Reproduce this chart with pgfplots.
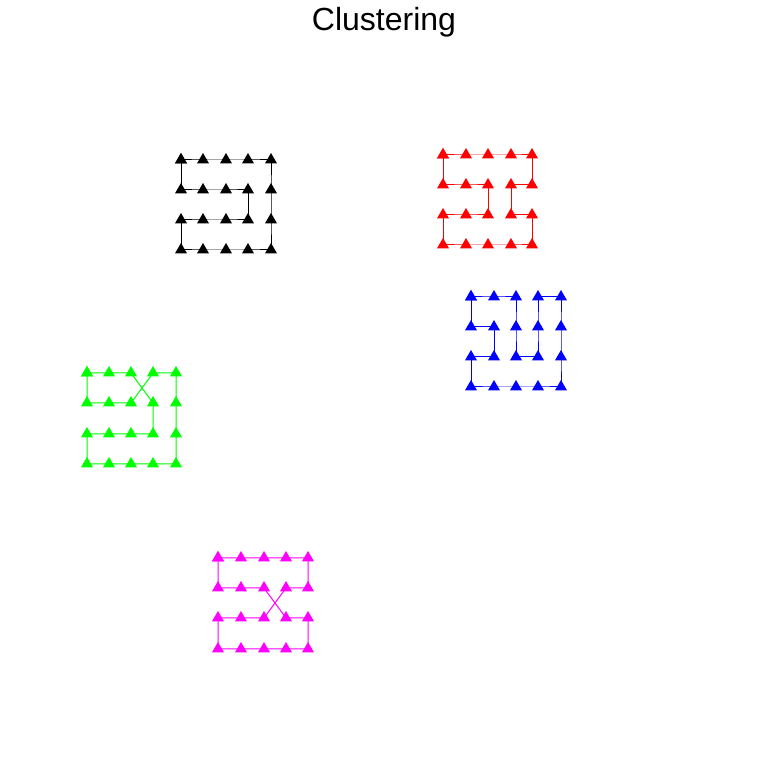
\documentclass[border=0pt]{standalone}
\usepackage{fontspec}
\setmainfont{Liberation Sans}
\usepackage{pgfplots}
\pgfplotsset{compat=1.18}
\definecolor{cBlack}{RGB}{0,0,0}
\definecolor{cRed}{RGB}{255,0,0}
\definecolor{cBlue}{RGB}{0,0,255}
\definecolor{cGreen}{RGB}{0,255,0}
\definecolor{cMag}{RGB}{255,0,255}
\begin{document}
\begin{tikzpicture}
\begin{axis}[
  scale only axis, width=384pt, height=384pt,
  xmin=0, xmax=768, ymin=0, ymax=768,
  axis line style={draw=none},
  xtick=\empty, ytick=\empty,
  clip=false,
  every axis title shift=0pt,
  title={\fontsize{16}{19}\selectfont Clustering},
  title style={at={(0.5,1)}, anchor=base, yshift=-15.5pt, inner sep=0pt},
  every axis plot/.append style={line width=0.5pt, mark=triangle*, mark size=3pt},
]
% black
\addplot[cBlack, mark options={fill=cBlack}] coordinates {
(181,608)(203,608)(226,608)(248,608)(271,608)
(271,578)(271,548)(271,518)
(248,518)(226,518)(203,518)(181,518)
(181,548)(203,548)(226,548)(248,548)
(248,578)(226,578)(203,578)(181,578)(181,608)};
% red
\addplot[cRed, mark options={fill=cRed}] coordinates {
(443,613)(443,583)(466,583)(488,583)(488,553)(466,553)(443,553)
(443,523)(466,523)(488,523)(511,523)(532,523)
(532,553)(511,553)(511,583)(532,583)
(532,613)(511,613)(488,613)(466,613)(443,613)};
% blue
\addplot[cBlue, mark options={fill=cBlue}] coordinates {
(471,471)(494,471)(516,471)(516,441)(516,411)(538,411)(538,441)(538,471)
(561,471)(561,441)(561,411)(561,381)
(538,381)(516,381)(494,381)(471,381)
(471,411)(494,411)(494,441)(471,441)(471,471)};
% green
\addplot[cGreen, mark options={fill=cGreen}] coordinates {
(87,395)(109,395)(131,395)(153,365)(153,334)(131,334)(109,334)(87,334)
(87,304)(109,304)(131,304)(153,304)(176,304)
(176,334)(176,365)(176,395)(153,395)(131,365)(109,365)(87,365)(87,395)};
% magenta
\addplot[cMag, mark options={fill=cMag}] coordinates {
(218,210)(241,210)(264,210)(286,210)(308,210)
(308,180)(286,180)(264,150)(241,150)(218,150)
(218,119)(241,119)(264,119)(286,119)(308,119)
(308,150)(286,150)(264,180)(241,180)(218,180)(218,210)};
\end{axis}
\end{tikzpicture}
\end{document}
